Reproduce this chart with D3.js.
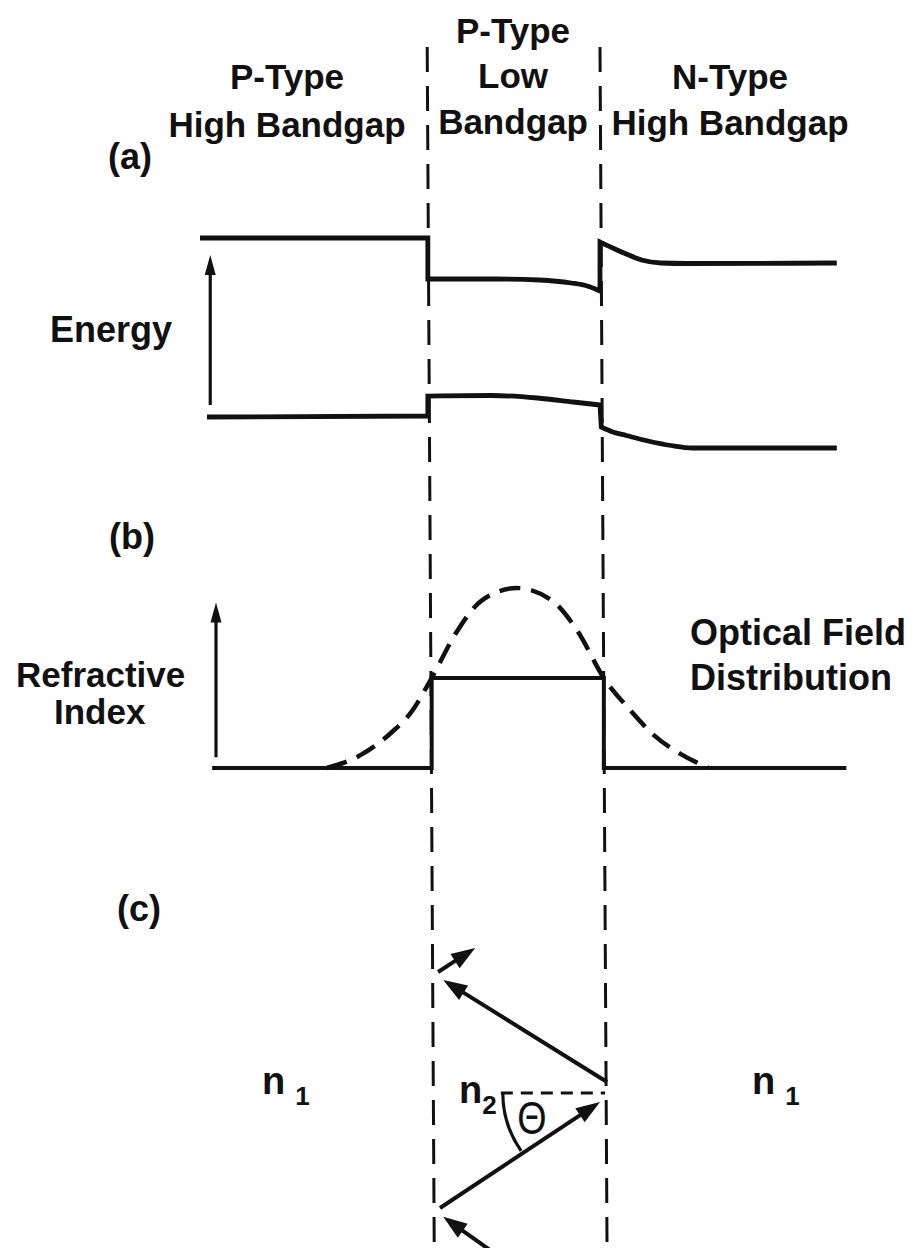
<!DOCTYPE html>
<html><head><meta charset="utf-8">
<script src="https://cdn.jsdelivr.net/npm/d3@7"></script>
<style>
body{margin:0;background:#fff}
text{font-family:"Liberation Sans",Arial,Helvetica,sans-serif;font-weight:bold;fill:#111}
</style></head>
<body><svg id="chart" width="920" height="1248"></svg>
<script>
// ---------------- data ----------------
// structure positions (arbitrary units across the device)
const junctionTop = [3.55, 6.25];      // boundaries at top of figure
const junctionBottom = [3.66, 6.36];   // boundaries at bottom of figure (scan slant)
// header labels per region
const regionLabels = [["P-Type", "High Bandgap"], ["P-Type", "Low", "Bandgap"], ["N-Type", "High Bandgap"]];
// (a) energy band diagram, segments per region [position, energy]
const conductionBand = [
  [[0.0, 2.22], [3.56, 2.22]],
  [[3.56, 1.81], [4.6, 1.81], [5.3, 1.80], [5.8, 1.77], [6.05, 1.74], [6.25, 1.69]],
  [[6.25, 2.18], [6.45, 2.12], [6.66, 2.06], [6.9, 2.00], [7.2, 1.97], [7.6, 1.965], [9.95, 1.97]]
];
const valenceBand = [
  [[0.11, 0.43], [3.56, 0.44]],
  [[3.56, 0.64], [4.56, 0.645], [5.27, 0.62], [5.83, 0.58], [6.25, 0.55]],
  [[6.27, 0.33], [6.45, 0.28], [6.66, 0.245], [7.0, 0.19], [7.36, 0.145], [7.7, 0.12], [9.95, 0.12]]
];
const energyArrow = {x: 0.16, from: 0.55, to: 2.05};
// (b) refractive index profile and optical field
const refractiveIndex = [[0.19, 0], [3.62, 0], [3.62, 0.5], [6.31, 0.5], [6.31, 0], [10.1, 0]];
const opticalField = [[1.98, 0.0], [2.5, 0.07], [3.0, 0.2], [3.3, 0.31], [3.62, 0.5], [4.0, 0.75],
  [4.4, 0.93], [4.95, 1.0], [5.5, 0.93], [5.9, 0.76], [6.31, 0.5], [6.7, 0.33], [7.1, 0.18], [7.5, 0.08], [7.95, 0.0]];
const indexArrow = {x: 0.25, from: 0.06, to: 0.92};
// (c) ray zig-zag [position, propagation distance]
const rays = [
  {from: [4.53, 0.0], to: [3.8, 0.83]},
  {from: [3.75, 1.05], to: [6.25, 3.7]},
  {from: [6.36, 4.2], to: [3.8, 6.75]},
  {from: [3.72, 6.95], to: [4.3, 7.55]}
];
const normalLine = {x0: 4.7, x1: 6.33, z: 3.925};
const thetaVertex = [6.3, 3.925];

// ---------------- scales ----------------
const svg = d3.select("#chart");
const x = d3.scaleLinear().domain([0, 10]).range([200, 840]);
const yE = d3.scaleLinear().domain([0, 2.3]).range([460, 230]);
const yN = d3.scaleLinear().domain([0, 1]).range([768, 588]);
const yC = d3.scaleLinear().domain([0, 10]).range([1250, 850]);
const yPage = d3.scaleLinear().domain([0, 1]).range([47, 1248]);

function arrowHead(g, x1, y1, x2, y2, L, W, sw) {
  const a = Math.atan2(y2 - y1, x2 - x1);
  const bx = x2 - L * Math.cos(a), by = y2 - L * Math.sin(a);
  const px = -Math.sin(a) * W / 2, py = Math.cos(a) * W / 2;
  g.append("path").attr("d", `M${x2},${y2}L${bx + px},${by + py}L${bx - px},${by - py}Z`).attr("fill", "#111");
  g.append("line").attr("x1", x1).attr("y1", y1).attr("x2", bx + Math.cos(a) * 2).attr("y2", by + Math.sin(a) * 2)
    .attr("stroke", "#111").attr("stroke-width", sw);
}

// ---------------- boundaries ----------------
junctionTop.forEach((j, i) => {
  svg.append("line")
    .attr("x1", x(j)).attr("y1", yPage(0)).attr("x2", x(junctionBottom[i])).attr("y2", yPage(1))
    .attr("stroke", "#111").attr("stroke-width", 3).attr("stroke-dasharray", "25 14");
});

// ---------------- header labels ----------------
const headerX = [287, 513, 730];
const headerBase = [[89, 137], [43, 88, 134], [89, 135]];
regionLabels.forEach((lines, i) => {
  lines.forEach((t, k) => {
    svg.append("text").attr("x", headerX[i]).attr("y", headerBase[i][k]).attr("text-anchor", "middle")
      .attr("font-size", 35).text(t);
  });
});
svg.append("text").attr("x", 108).attr("y", 169).attr("font-size", 36).text("(a)");

// ---------------- (a) energy ----------------
function bandPath(segs, ys) {
  const line = d3.line().x(d => x(d[0])).y(d => ys(d[1])).curve(d3.curveMonotoneX);
  return segs.map((s, i) => { const d = line(s); return i === 0 ? d : "L" + d.slice(1); }).join("");
}
[conductionBand, valenceBand].forEach(b => {
  svg.append("path").attr("d", bandPath(b, yE)).attr("fill", "none").attr("stroke", "#111")
    .attr("stroke-width", 4.8).attr("stroke-linejoin", "miter");
});
arrowHead(svg, x(energyArrow.x), yE(energyArrow.from), x(energyArrow.x), yE(energyArrow.to), 20, 11, 3.2);
svg.append("text").attr("x", 50).attr("y", 342).attr("font-size", 36).text("Energy");

// ---------------- (b) refractive index ----------------
svg.append("text").attr("x", 109).attr("y", 549).attr("font-size", 36).text("(b)");
svg.append("path")
  .attr("d", d3.line().x(d => x(d[0])).y(d => yN(d[1]))(refractiveIndex))
  .attr("fill", "none").attr("stroke", "#111").attr("stroke-width", 4).attr("stroke-linejoin", "miter");
svg.append("path")
  .attr("d", d3.line().x(d => x(d[0])).y(d => yN(d[1])).curve(d3.curveMonotoneX)(opticalField))
  .attr("fill", "none").attr("stroke", "#111").attr("stroke-width", 4.5).attr("stroke-dasharray", "21 11");
arrowHead(svg, x(indexArrow.x), yN(indexArrow.from), x(indexArrow.x), yN(indexArrow.to), 20, 11, 3.2);
svg.append("text").attr("x", 16).attr("y", 687).attr("font-size", 35).text("Refractive");
svg.append("text").attr("x", 54).attr("y", 724).attr("font-size", 35).text("Index");
svg.append("text").attr("x", 690).attr("y", 645).attr("font-size", 36).text("Optical Field");
svg.append("text").attr("x", 690).attr("y", 690).attr("font-size", 36).text("Distribution");

// ---------------- (c) rays ----------------
svg.append("text").attr("x", 117).attr("y", 921).attr("font-size", 36).text("(c)");
rays.forEach(r => arrowHead(svg, x(r.from[0]), yC(r.from[1]), x(r.to[0]), yC(r.to[1]), 24, 17, 4));
svg.append("line").attr("x1", x(normalLine.x0)).attr("x2", x(normalLine.x1))
  .attr("y1", yC(normalLine.z)).attr("y2", yC(normalLine.z))
  .attr("stroke", "#111").attr("stroke-width", 3).attr("stroke-dasharray", "12 8");
// theta arc between normal line and incoming ray
const vx = x(thetaVertex[0]), vy = yC(thetaVertex[1]);
const rad = vx - x(normalLine.x0) - 2;
const endA = Math.atan2(yC(rays[1].from[1]) - vy, x(rays[1].from[0]) - vx);
const p = d3.path();
p.moveTo(vx - rad, vy);
p.arc(vx, vy, rad, Math.PI, endA, true);
svg.append("path").attr("d", p.toString()).attr("fill", "none").attr("stroke", "#111").attr("stroke-width", 3.2);
svg.append("text").attr("x", 532).attr("y", 1134).attr("text-anchor", "middle")
  .style("font-family", "'Liberation Sans',Arial,sans-serif").style("font-weight", "normal")
  .attr("font-size", 46).attr("transform", "translate(532,1134) scale(0.82,1) translate(-532,-1134)").text("Θ");

function nLabel(xp, yp, sub) {
  const t = svg.append("text").attr("x", xp).attr("y", yp).attr("font-size", 38).text("n");
  t.append("tspan").attr("dx", sub === "2" ? 0 : 10).attr("dy", 11).attr("font-size", 26).text(sub);
}
nLabel(262, 1094, "1");
nLabel(752, 1094, "1");
nLabel(459, 1103, "2");
</script></body></html>
